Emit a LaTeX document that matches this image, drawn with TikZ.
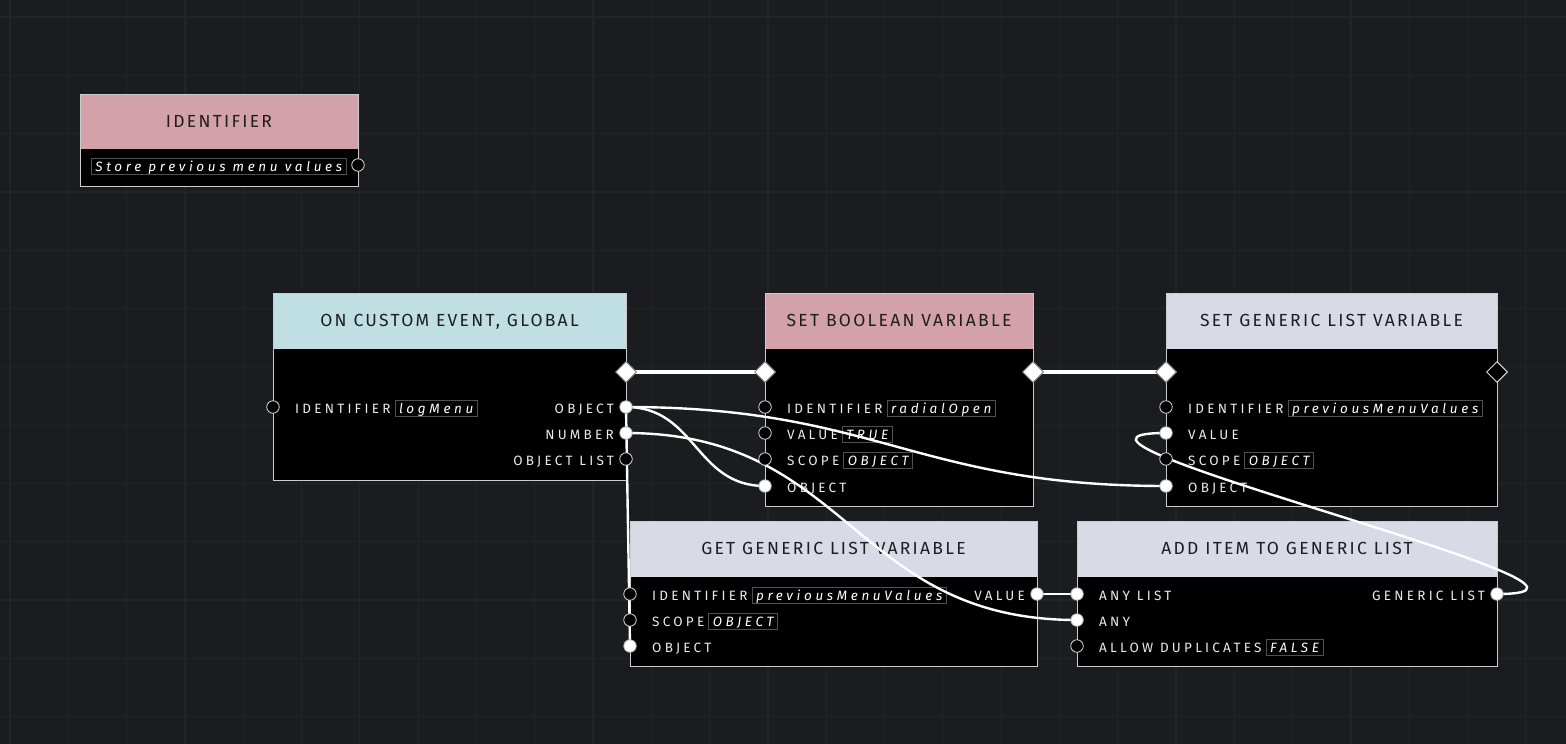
\documentclass[tikz,border=0pt]{standalone}
\usepackage{fontspec}
\setmainfont{Fira Sans}
\newfontfamily\hdrfont[LetterSpace=13]{Fira Sans}
\newfontfamily\rowfont[LetterSpace=24]{Fira Sans}
\newfontfamily\fieldfont[LetterSpace=27]{Fira Sans}
\usetikzlibrary{positioning,shapes.geometric}
\definecolor{bgcol}{RGB}{27,28,31}
\definecolor{gridcol}{RGB}{35,36,40}
\definecolor{hdrpink}{RGB}{211,161,169}
\definecolor{hdrteal}{RGB}{192,223,226}
\definecolor{hdrlav}{RGB}{216,218,229}
\definecolor{hdrink}{RGB}{30,30,32}
\definecolor{fieldline}{RGB}{80,80,80}
\pgfdeclarelayer{background}
\pgfdeclarelayer{foreground}
\pgfsetlayers{background,main,foreground}

\begin{document}
\begin{tikzpicture}[x=1pt,y=-1pt,
  boxline/.style={draw=white!80!black,line width=1pt},
  hdrtext/.style={font=\hdrfont\fontsize{17.5}{19}\selectfont,text=hdrink,anchor=base,inner sep=0pt},
  lbl/.style={font=\rowfont\fontsize{13.5}{15}\selectfont,text=white!92!black,inner sep=0pt},
  field/.style={font=\fieldfont\itshape\fontsize{13.5}{15}\selectfont,text=white,draw=fieldline,
    line width=0.8pt,inner xsep=4pt,inner ysep=1pt,text height=11.5pt,text depth=2pt},
  plug/.style={circle,minimum size=12.5pt,inner sep=0pt,fill=white,draw=white!70!black,line width=0.8pt},
  socket/.style={circle,minimum size=12.5pt,inner sep=0pt,fill=black,draw=white!85!black,line width=0.8pt},
  exec/.style={diamond,minimum width=21pt,minimum height=21pt,inner sep=0pt,fill=white,draw=white!55!black,line width=1pt},
  execfree/.style={exec,fill=black,draw=white!85!black},
  wire/.style={draw=white,line width=2.4pt},
  execwire/.style={draw=white,line width=4pt}]
\useasboundingbox (0,0) rectangle (1566,744);

\begin{pgfonlayer}{background}
  \fill[bgcol] (0,0) rectangle (1566,744);
  \foreach \i in {0,...,26} \draw[gridcol,line width=1.2pt] ({10+58.3*\i},0) -- ++(0,744);
  \foreach \j in {0,...,12} \draw[gridcol,line width=1.2pt] (0,{17+58.3*\j}) -- ++(1566,0);

  \fill[hdrpink] (80,94) rectangle (358,149);
  \fill[black] (80,149) rectangle (358,186);
  \draw[boxline] (80,94) rectangle (358,186);

  \fill[hdrteal] (273,293) rectangle (626,349);
  \fill[black] (273,349) rectangle (626,480);
  \draw[boxline] (273,293) rectangle (626,480);

  \fill[hdrpink] (765,293) rectangle (1033,349);
  \fill[black] (765,349) rectangle (1033,506);
  \draw[boxline] (765,293) rectangle (1033,506);

  \fill[hdrlav] (1166,293) rectangle (1497,349);
  \fill[black] (1166,349) rectangle (1497,506);
  \draw[boxline] (1166,293) rectangle (1497,506);

  \fill[hdrlav] (630,521) rectangle (1037,577);
  \fill[black] (630,577) rectangle (1037,666);
  \draw[boxline] (630,521) rectangle (1037,666);

  \fill[hdrlav] (1077,521) rectangle (1497,577);
  \fill[black] (1077,577) rectangle (1497,666);
  \draw[boxline] (1077,521) rectangle (1497,666);

  \node[hdrtext] (id-title) at (219,127) {IDENTIFIER};
  \node[field,anchor=base west] (id-note) at (91,171) {Store previous menu values};

  \node[hdrtext] (ce-title) at (449.5,326) {ON CUSTOM EVENT, GLOBAL};
  \node[lbl,anchor=base west] (ce-idl) at (295,413) {IDENTIFIER};
  \node[field,base right=4pt of ce-idl] (ce-idf) {logMenu};
  \node[lbl,anchor=base east] (ce-objl) at (614,413) {OBJECT};
  \node[lbl,anchor=base east] (ce-numl) at (614,439) {NUMBER};
  \node[lbl,anchor=base east] (ce-listl) at (614,465) {OBJECT LIST};

  \node[hdrtext] (sb-title) at (899,326) {SET BOOLEAN VARIABLE};
  \node[lbl,anchor=base west] (sb-idl) at (787,413) {IDENTIFIER};
  \node[field,base right=4pt of sb-idl] (sb-idf) {radialOpen};
  \node[lbl,anchor=base west] (sb-vall) at (787,439) {VALUE};
  \node[field,base right=4pt of sb-vall] (sb-valf) {TRUE};
  \node[lbl,anchor=base west] (sb-scl) at (787,465) {SCOPE};
  \node[field,base right=4pt of sb-scl] (sb-scf) {OBJECT};
  \node[lbl,anchor=base west] (sb-objl) at (787,492) {OBJECT};

  \node[hdrtext] (sg-title) at (1331.5,326) {SET GENERIC LIST VARIABLE};
  \node[lbl,anchor=base west] (sg-idl) at (1188,413) {IDENTIFIER};
  \node[field,base right=4pt of sg-idl] (sg-idf) {previousMenuValues};
  \node[lbl,anchor=base west] (sg-vall) at (1188,439) {VALUE};
  \node[lbl,anchor=base west] (sg-scl) at (1188,465) {SCOPE};
  \node[field,base right=4pt of sg-scl] (sg-scf) {OBJECT};
  \node[lbl,anchor=base west] (sg-objl) at (1188,492) {OBJECT};

  \node[hdrtext] (gg-title) at (833.5,554) {GET GENERIC LIST VARIABLE};
  \node[lbl,anchor=base west] (gg-idl) at (652,600) {IDENTIFIER};
  \node[field,base right=4pt of gg-idl] (gg-idf) {previousMenuValues};
  \node[lbl,anchor=base west] (gg-scl) at (652,626) {SCOPE};
  \node[field,base right=4pt of gg-scl] (gg-scf) {OBJECT};
  \node[lbl,anchor=base west] (gg-objl) at (652,652) {OBJECT};
  \node[lbl,anchor=base east] (gg-vall) at (1025,600) {VALUE};

  \node[hdrtext] (ai-title) at (1287,554) {ADD ITEM TO GENERIC LIST};
  \node[lbl,anchor=base west] (ai-listl) at (1099,600) {ANY LIST};
  \node[lbl,anchor=base west] (ai-anyl) at (1099,626) {ANY};
  \node[lbl,anchor=base west] (ai-dupl) at (1099,652) {ALLOW DUPLICATES};
  \node[field,base right=4pt of ai-dupl] (ai-dupf) {FALSE};
  \node[lbl,anchor=base east] (ai-outl) at (1485,600) {GENERIC LIST};
\end{pgfonlayer}

\begin{pgfonlayer}{foreground}
  \node[exec] (ce-exout) at (626,372) {};
  \node[exec] (sb-exin) at (765,372) {};
  \node[exec] (sb-exout) at (1033,372) {};
  \node[exec] (sg-exin) at (1166,372) {};
  \node[execfree] (sg-exout) at (1497,372) {};
  \foreach \n/\x/\y in {id-out/358/165, ce-id/273/407, ce-list/626/459,
      sb-id/765/407, sb-val/765/433, sb-sc/765/459, sg-id/1166/407, sg-sc/1166/459,
      gg-id/630/594, gg-sc/630/620, ai-dup/1077/646}
    \node[socket] (\n) at (\x,\y) {};
  \foreach \n/\x/\y in {ce-obj/626/407, ce-num/626/433, sb-obj/765/486, sg-val/1166/433,
      sg-obj/1166/486, gg-obj/630/646, gg-val/1037/594, ai-list/1077/594,
      ai-any/1077/620, ai-out/1497/594}
    \node[plug] (\n) at (\x,\y) {};
\end{pgfonlayer}

\draw[execwire] (ce-exout.center) -- (sb-exin.center);
\draw[execwire] (sb-exout.center) -- (sg-exin.center);
\draw[wire] (ce-obj.center) -- (gg-obj.center);
\draw[wire] (ce-obj.center) .. controls +(70,0) and +(-70,0) .. (sb-obj.center);
\draw[wire] (ce-obj.center) .. controls +(250,0) and +(-250,0) .. (sg-obj.center);
\draw[wire] (ce-num.center) .. controls +(225,0) and +(-225,0) .. (ai-any.center);
\draw[wire] (gg-val.center) -- (ai-list.center);
\draw[wire] (ai-out.center) .. controls +(180,0) and +(-180,0) .. (sg-val.center);
\end{tikzpicture}
\end{document}
